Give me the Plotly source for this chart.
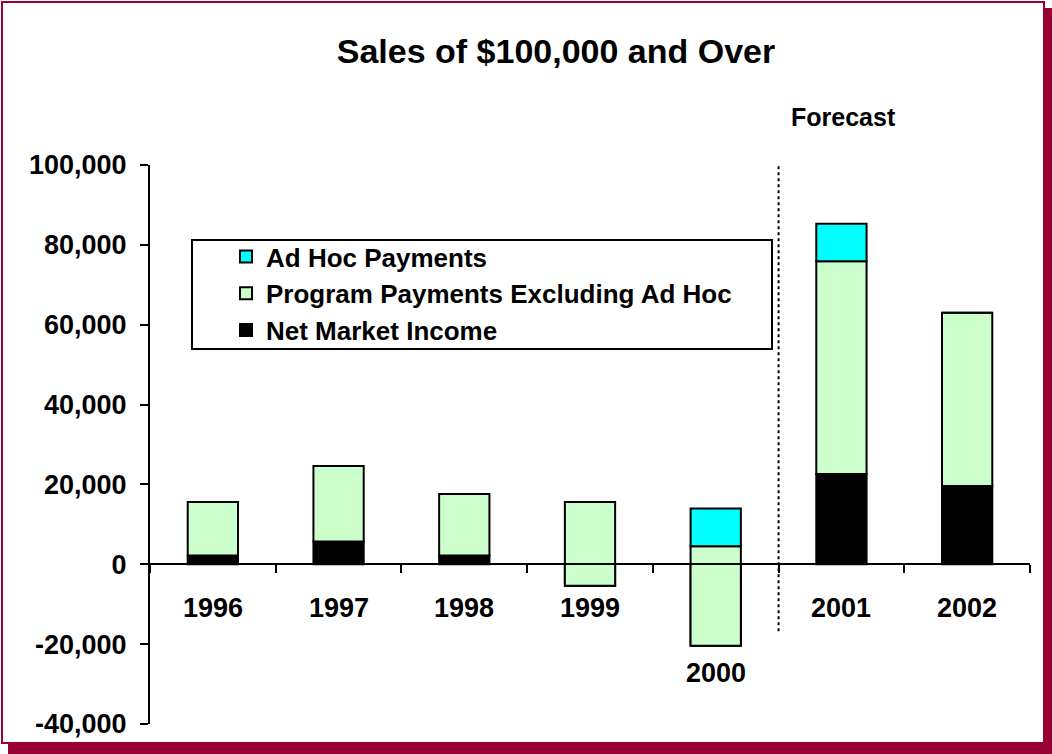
import numpy as np
import plotly.graph_objects as go

# Data
years = ["1996", "1997", "1998", "1999", "2000", "2001", "2002"]
net_market_income = [2200, 5700, 2200, -5400, -20400, 22600, 19600]
program_payments = [13400, 18900, 15400, 21000, 24900, 53300, 43400]
ad_hoc_payments = [0, 0, 0, 0, 9500, 9400, 0]
y_tick_values = [-40000, -20000, 0, 20000, 40000, 60000, 80000, 100000]
y_tick_labels = ["-40,000", "-20,000", "0", "20,000", "40,000", "60,000", "80,000", "100,000"]

FONT = "Liberation Sans, Arial, sans-serif"
CRIMSON = "#990033"

net = np.array(net_market_income, dtype=float)
prog = np.array(program_payments, dtype=float)
adhoc = np.array(ad_hoc_payments, dtype=float)

fig = go.Figure()
bar_style = dict(width=0.4, marker_line_color="black", marker_line_width=2)

fig.add_trace(go.Bar(x=years, y=net, base=0, name="Net Market Income",
                     marker_color="black", **bar_style))
fig.add_trace(go.Bar(x=years, y=prog, base=net, name="Program Payments Excluding Ad Hoc",
                     marker_color="#CCFFCC", **bar_style))
fig.add_trace(go.Bar(x=years, y=adhoc, base=net + prog, name="Ad Hoc Payments",
                     marker_color="#00FFFF", **bar_style))

W, H = 1052, 754
L, R, T, B = 150, 22, 165, 30
pw, ph = W - L - R, H - T - B


def px_x(x):
    return (x - L) / pw


def px_y(y):
    return (H - B - y) / ph


shapes = [
    # drop shadow of the frame
    dict(type="rect", xref="paper", yref="paper", layer="below",
         x0=px_x(8), x1=px_x(1053), y0=px_y(755), y1=px_y(8),
         fillcolor=CRIMSON, line_width=0),
    # white frame with thin border
    dict(type="rect", xref="paper", yref="paper", layer="below",
         x0=px_x(2), x1=px_x(1044), y0=px_y(743), y1=px_y(2),
         fillcolor="white", line=dict(color=CRIMSON, width=2)),
    # legend box
    dict(type="rect", xref="paper", yref="paper", layer="above",
         x0=px_x(192), x1=px_x(772), y0=px_y(349), y1=px_y(240),
         fillcolor="rgba(0,0,0,0)", line=dict(color="black", width=2)),
    # forecast divider
    dict(type="line", xref="x", yref="y", x0=4.5, x1=4.5, y0=-16800, y1=115500,
         line=dict(color="black", width=2, dash="dot")),
]

zero_pos = (0 - y_tick_values[0]) / (y_tick_values[-1] - y_tick_values[0])

annotations = [
    dict(text="<b>Forecast</b>", xref="paper", yref="paper", x=px_x(789), y=px_y(117),
         xanchor="left", yanchor="middle", showarrow=False,
         font=dict(family=FONT, size=25, color="black")),
]
for i, (yr, low) in enumerate(zip(years, net)):
    ylab = -27300 if low < -15000 else -11000
    annotations.append(dict(text="<b>" + yr + "</b>", xref="x", yref="y", x=i, y=ylab,
                            showarrow=False, xanchor="center", yanchor="middle",
                            font=dict(family=FONT, size=27, color="black")))

fig.update_layout(
    width=W, height=H,
    margin=dict(l=L, r=R, t=T, b=B, autoexpand=False),
    paper_bgcolor="white",
    plot_bgcolor="rgba(0,0,0,0)",
    barmode="overlay",
    title=dict(text="<b>Sales of $100,000 and Over</b>", x=556 / W, xanchor="center",
               y=1 - 51 / H, yanchor="middle",
               font=dict(family=FONT, size=34, color="black")),
    showlegend=True,
    legend=dict(traceorder="reversed", x=px_x(226), y=px_y(233), xanchor="left", yanchor="top",
                bgcolor="rgba(0,0,0,0)", borderwidth=0,
                font=dict(family=FONT, size=26, color="black", weight="bold"),
                itemclick=False, itemdoubleclick=False),
    xaxis=dict(type="category", range=[-0.5, 6.5], anchor="free", position=zero_pos,
               showline=True, linecolor="black", linewidth=2,
               ticks="outside", tickson="boundaries", ticklen=8, tickwidth=2, tickcolor="black",
               showticklabels=False, showgrid=False, zeroline=False, fixedrange=True),
    yaxis=dict(range=[y_tick_values[0], y_tick_values[-1]], tickvals=y_tick_values,
               ticktext=y_tick_labels, showline=True, linecolor="black", linewidth=2,
               ticks="outside", ticklen=8, tickwidth=2, tickcolor="black",
               ticklabelstandoff=8, showgrid=False, zeroline=False,
               tickfont=dict(family=FONT, size=27, color="black", weight="bold"),
               fixedrange=True),
    shapes=shapes,
    annotations=annotations,
)

fig.write_html("out.html")
